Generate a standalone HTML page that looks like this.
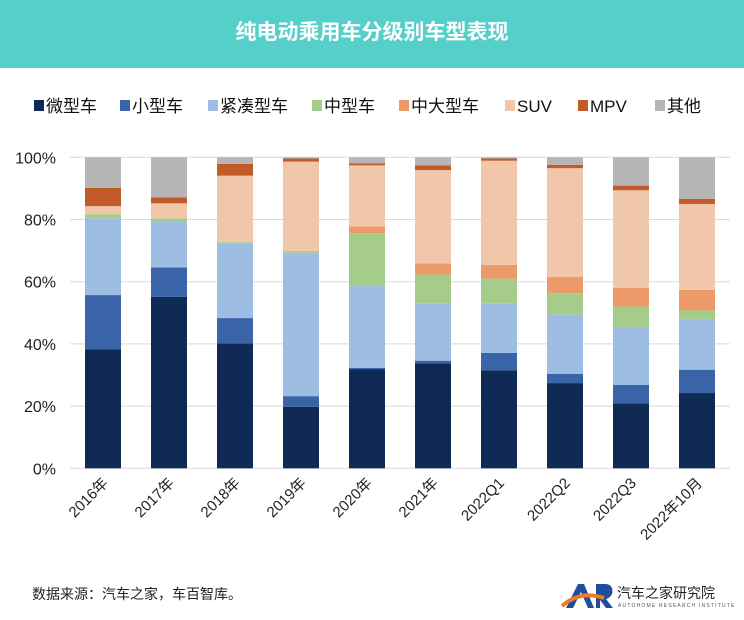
<!DOCTYPE html>
<html><head><meta charset="utf-8">
<style>
body{margin:0;width:744px;height:620px;background:#fff;font-family:"Liberation Sans","Noto Sans CJK SC",sans-serif;overflow:hidden;position:relative}
.hdr{position:absolute;left:0;top:0;width:744px;height:68px;background:#55cfc9;color:#fff;font-size:21px;font-weight:bold;text-align:center;line-height:66px}
svg{position:absolute;left:0;top:0}
</style></head><body>
<div class="hdr">纯电动乘用车分级别车型表现</div>
<svg id="c" width="744" height="620"></svg>
<script>
const categories=["2016年","2017年","2018年","2019年","2020年","2021年","2022Q1","2022Q2","2022Q3","2022年10月"];
const seriesNames=["微型车","小型车","紧凑型车","中型车","中大型车","SUV","MPV","其他"];
const micro=[38.3,55.1,40.2,19.8,31.9,33.8,31.5,27.4,20.9,24.2];
const small=[17.4,9.5,8.1,3.4,0.4,0.8,5.6,3.0,5.9,7.5];
const compact=[24.7,14.9,24.0,46.1,26.3,18.3,15.8,19.0,18.6,16.1];
const mid=[1.3,0.9,0.4,0.6,17.0,9.4,8.1,6.9,6.6,3.0];
const midLarge=[0,0,0,0,2.2,3.6,4.4,5.2,6.0,6.6];
const suv=[2.6,4.8,21.4,28.7,19.6,30.0,33.5,35.0,31.4,27.6];
const mpv=[5.9,1.9,3.8,1.0,0.7,1.5,0.7,1.1,1.5,1.6];
const other=[9.8,12.9,2.1,0.4,1.9,2.6,0.4,2.4,9.1,13.4];
const yTicks=[0,20,40,60,80,100];
const series=[micro,small,compact,mid,midLarge,suv,mpv,other];
const colors=["#0e2a55","#3a64a8","#9dbde2","#a5cc8a","#ec9a6a","#f1c7a9","#c25a2a","#b5b5b5"];
const NS="http://www.w3.org/2000/svg";
const svg=document.getElementById('c');
const y0=468.3,y100=157.3;
const y=v=>y0-(y0-y100)*v/100;
const x=i=>103+66*i;
const bw=36;
function mk(t,a){const e=document.createElementNS(NS,t);for(const k in a)e.setAttribute(k,a[k]);svg.appendChild(e);return e;}
yTicks.forEach(t=>{
  const g=mk('line',{x1:70,x2:730,y1:y(t),y2:y(t),stroke:'#d9d9d9','stroke-width':1});
  
  
  const l=mk('text',{x:56,y:y(t)+6,'text-anchor':'end','font-size':16,fill:'#222'});
  l.textContent=t+'%';
  
  
});
categories.forEach((c,i)=>{
  let acc=0;
  series.forEach((s,j)=>{
    const v=s[i];
    const r=mk('rect',{x:x(i)-bw/2,y:y(acc+v),width:bw,height:Math.max(0,y(acc)-y(acc+v)),fill:colors[j]});
    
    
    acc+=v;
  });
  const t=mk('text',{x:x(i)+6,y:484,'text-anchor':'end','font-size':15,fill:'#222',transform:`rotate(-45 ${x(i)+6} 484)`});
  t.textContent=c;
  
  
});
const lx=[34,120,208,312,399,505,578,655];
seriesNames.forEach((n,j)=>{
  const r=mk('rect',{x:lx[j],y:100,width:10,height:11,fill:colors[j]});
  
  
  const t=mk('text',{x:lx[j]+12,y:112,'font-size':17,fill:'#111'});
  t.textContent=n;
  
  
});
const src=mk('text',{x:32,y:599,'font-size':14,fill:'#222'});
src.textContent='数据来源：汽车之家，车百智库。';


const logo=mk('g',{});


logo.innerHTML='<path d="M566 608 L578 584 L584 584 L594 608 L588 608 L581 592 L573 608 Z" fill="#1f4e9c"/><path d="M596 608 L596 584 L606 584 Q614 585 612 594 Q610 598 606 599 L613 608 L606 608 L600 600 L600 608 Z" fill="#1f4e9c"/><path d="M562 606 Q580 590 604 598" stroke="#ee7d22" stroke-width="4" fill="none"/><text x="617" y="598" font-size="14" fill="#222">汽车之家研究院</text><text x="618" y="607" font-size="5" fill="#555" letter-spacing="1.2">AUTOHOME RESEARCH INSTITUTE</text>';
</script>
</body></html>
